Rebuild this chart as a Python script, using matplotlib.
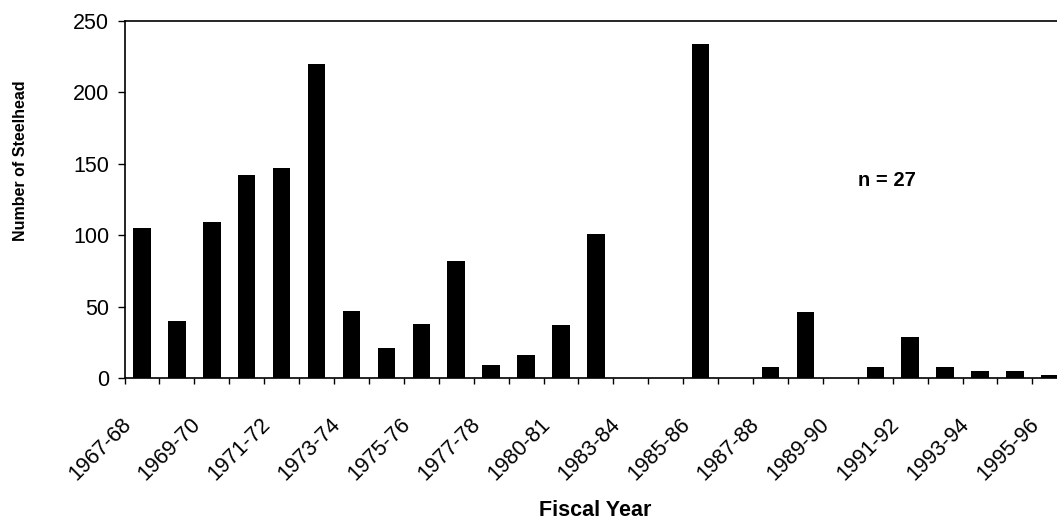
import numpy as np
import matplotlib
matplotlib.use("Agg")
import matplotlib.pyplot as plt
from matplotlib.transforms import ScaledTranslation

plt.rcParams['font.family'] = ['Liberation Sans', 'DejaVu Sans']

# steelhead counts per fiscal year (27 seasons)
counts = [105, 40, 109, 142, 147, 220, 47, 21, 38, 82,
          9, 16, 37, 101, 0, 0, 234, 0, 8, 46,
          0, 8, 29, 8, 5, 5, 2]
# only every other season is labelled on the axis
tick_labels = ["1967-68", "1969-70", "1971-72", "1973-74", "1975-76",
               "1977-78", "1980-81", "1983-84", "1985-86", "1987-88",
               "1989-90", "1991-92", "1993-94", "1995-96"]
y_ticks = [0, 50, 100, 150, 200, 250]

W, H = 1057, 523
fig = plt.figure(figsize=(W / 100, H / 100), dpi=100)
ax = fig.add_axes([124.5 / W, 145 / H, 942.8 / W, 357 / H])

x = np.arange(len(counts))
ax.bar(x, counts, width=0.5, color='black')

ax.set_xlim(-0.5, len(counts) - 0.5)
ax.set_ylim(0, 250)

for side in ['left', 'bottom', 'top', 'right']:
    ax.spines[side].set_linewidth(1.2)

ax.set_yticks(y_ticks)
ax.tick_params(axis='y', direction='out', length=5, width=1, pad=6, labelsize=15.5)

ax.set_xticks(x[::2])
ax.set_xticklabels(tick_labels, rotation=45, ha='right', va='center',
                   rotation_mode='anchor', fontsize=15.5)
ax.tick_params(axis='x', which='major', length=0, pad=31)
ax.set_xticks(np.arange(-0.5, len(counts), 1), minor=True)
ax.tick_params(axis='x', which='minor', direction='out', length=4, width=1)
shift = ScaledTranslation(-14 / 100, 0, fig.dpi_scale_trans)
for lab in ax.get_xticklabels():
    lab.set_transform(lab.get_transform() + shift)

ax.set_ylabel("Number of Steelhead", fontsize=11.5, fontweight='bold')
ax.yaxis.set_label_coords(-(124.5 - 21) / 942.8, (378 - 161) / 357)
ax.yaxis.label.set_va('center')
ax.set_xlabel("Fiscal Year", fontsize=15.5, fontweight='bold')
ax.xaxis.set_label_coords((595 - 124.5) / 942.8, -(510 - 378) / 357)
ax.xaxis.label.set_va('center')

ax.text((887 - 124.5) / 942.8, (378 - 181) / 357, "n = 27", transform=ax.transAxes,
        ha='center', va='center', fontsize=14.5, fontweight='bold')

fig.savefig("out.png", dpi=100)
